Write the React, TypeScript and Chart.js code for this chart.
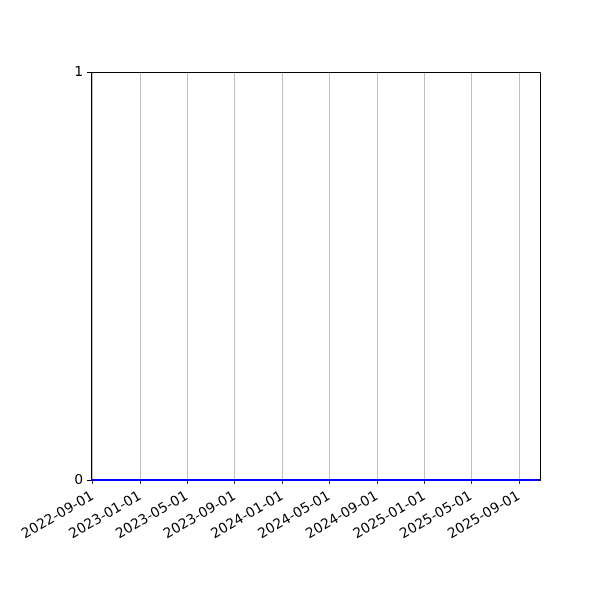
import { useEffect, useRef } from 'react'
import { Chart, registerables } from 'chart.js'

Chart.register(...registerables)

// series is flat at zero over the whole span
const dates = ['2022-08-27', '2023-01-01', '2023-06-01', '2023-11-01', '2024-04-01', '2024-09-01', '2025-02-01', '2025-07-01', '2025-10-25']
const values = [0, 0, 0, 0, 0, 0, 0, 0, 0]

const tickDates = ['2022-09-01', '2023-01-01', '2023-05-01', '2023-09-01', '2024-01-01', '2024-05-01', '2024-09-01', '2025-01-01', '2025-05-01', '2025-09-01']
const yTicks = [0, 1]

const toMs = (d: string) => Date.parse(d + 'T00:00:00Z')
const fmt = (ms: number) => new Date(ms).toISOString().slice(0, 10)

const frame = {
  id: 'frame',
  afterDraw(chart: Chart) {
    const { ctx, chartArea: a } = chart
    ctx.save()
    ctx.strokeStyle = '#000'
    ctx.lineWidth = 1
    ctx.beginPath()
    ctx.moveTo(a.left, a.top + 0.5)
    ctx.lineTo(a.right + 0.5, a.top + 0.5)
    ctx.lineTo(a.right + 0.5, a.bottom)
    ctx.stroke()
    ctx.restore()
  },
}

export default function App() {
  const ref = useRef<HTMLCanvasElement>(null)

  useEffect(() => {
    if (!ref.current) return
    const font = { family: 'DejaVu Sans', size: 13.9 }

    const chart = new Chart(ref.current, {
      type: 'line',
      data: {
        datasets: [
          {
            data: dates.map((d, i) => ({ x: toMs(d), y: values[i] })),
            borderColor: '#0000ff',
            borderWidth: 1.8,
            pointRadius: 0,
            clip: false,
          },
        ],
      },
      options: {
        animation: false,
        responsive: false,
        layout: { padding: { left: 0, top: 72, right: 60, bottom: 0 } },
        plugins: { legend: { display: false }, tooltip: { enabled: false } },
        scales: {
          x: {
            type: 'linear',
            min: toMs(dates[0]),
            max: toMs(dates[dates.length - 1]),
            afterBuildTicks: (s) => { s.ticks = tickDates.map((d) => ({ value: toMs(d) })) },
            afterFit: (s) => { s.height = 120 },
            grid: { color: '#b0b0b0', lineWidth: 0.8, tickColor: '#000', tickLength: 4 },
            border: { color: '#000', width: 1 },
            ticks: {
              color: '#000',
              font,
              minRotation: 30,
              maxRotation: 30,
              autoSkip: false,
              padding: 4,
              callback: (v) => fmt(Number(v)),
            },
          },
          y: {
            min: 0,
            max: 1,
            afterBuildTicks: (s) => { s.ticks = yTicks.map((v) => ({ value: v })) },
            afterFit: (s) => { s.width = 91 },
            grid: { drawOnChartArea: false, color: '#000', tickLength: 4 },
            border: { color: '#000', width: 1 },
            ticks: { color: '#000', font, padding: 4 },
          },
        },
      },
      plugins: [frame],
    })

    return () => chart.destroy()
  }, [])

  return (
    <div style={{ position: 'absolute', left: 0, top: 0, width: 600, height: 600, background: '#fff' }}>
      <canvas ref={ref} width={600} height={600} />
    </div>
  )
}
